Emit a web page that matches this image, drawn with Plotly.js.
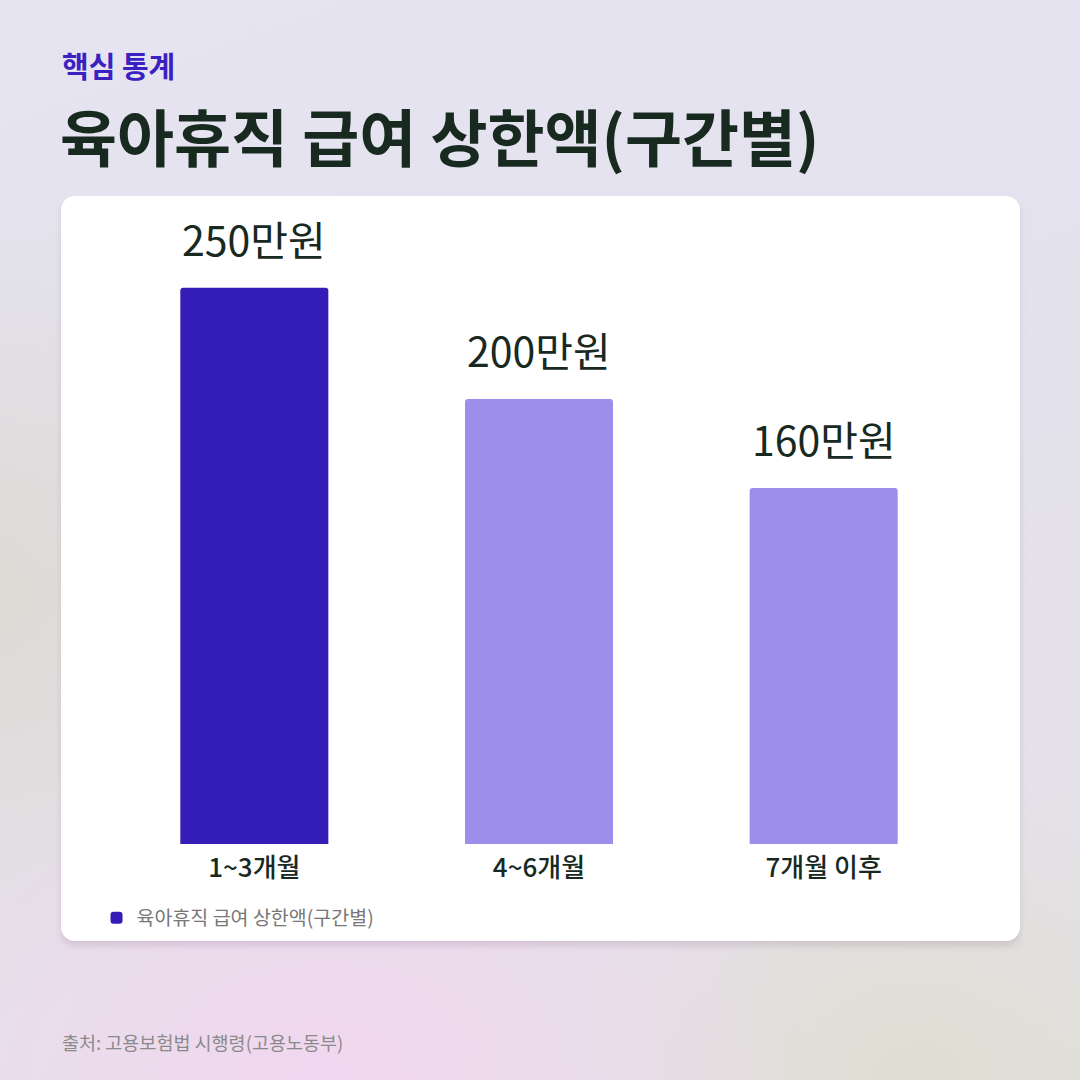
<!DOCTYPE html>
<html>
<head>
<meta charset="utf-8">
<script src="https://cdn.plot.ly/plotly-3.0.1.min.js"></script>
<style>
  html, body { margin: 0; padding: 0; }
  body {
    width: 1080px; height: 1080px; overflow: hidden; position: relative;
    background:
      radial-gradient(ellipse 700px 500px at 30% 100%, rgba(242,214,240,0.95), rgba(242,214,240,0) 70%),
      radial-gradient(ellipse 500px 400px at 85% 100%, rgba(222,222,208,0.9), rgba(222,222,208,0) 70%),
      radial-gradient(ellipse 500px 600px at 0% 55%, rgba(220,218,210,0.9), rgba(220,218,210,0) 70%),
      linear-gradient(160deg, #e6e4f0 0%, #e4e2ee 40%, #e4e0e4 100%);
  }
  #card {
    position: absolute; left: 61px; top: 196px; width: 959px; height: 745px;
    background: #ffffff; border-radius: 14px;
    box-shadow: 0 5px 6px rgba(120, 90, 130, 0.18);
  }
  #chart { position: absolute; left: 0; top: 0; width: 1080px; height: 1080px; }
</style>
</head>
<body>
<div id="card"></div>
<div id="chart"></div>
<script>
const categories = ['1~3개월', '4~6개월', '7개월 이후'];
const values = [250, 200, 160];
const valueLabels = ['250만원', '200만원', '160만원'];
const barColors = ['#341db7', '#9d8eeb', '#9d8eeb'];
const seriesName = '육아휴직 급여 상한액(구간별)';

const W = 1080, H = 1080;
const plotL = 111.5, plotR = 966.5, plotT = 221, plotB = 844;
const px = x => (x - plotL) / (plotR - plotL);
const py = y => (plotB - y) / (plotB - plotT);

const dark = '#18291f';
const font = '"Noto Sans CJK KR", "Noto Sans", sans-serif';

const annotations = [
    {
        text: '<b>핵심 통계</b>', xref: 'paper', yref: 'paper',
        x: px(59), y: py(65), xanchor: 'left', yanchor: 'middle',
        showarrow: false, font: { family: font, size: 29, color: '#3a22c0' }
    },
    {
        text: '<b>육아휴직 급여 상한액(구간별)</b>', xref: 'paper', yref: 'paper',
        x: px(57), y: py(135), xanchor: 'left', yanchor: 'middle',
        showarrow: false, font: { family: font, size: 62, color: dark }
    },
    {
        text: '출처: 고용보험법 시행령(고용노동부)', xref: 'paper', yref: 'paper',
        x: px(59), y: py(1042), xanchor: 'left', yanchor: 'middle',
        showarrow: false, font: { family: font, size: 18.5, color: '#8a8a8a' }
    }
];

// value labels sit above each bar
categories.forEach((c, i) => {
    annotations.push({
        text: valueLabels[i], x: c, y: values[i], xref: 'x', yref: 'y',
        xanchor: 'center', yanchor: 'bottom', yshift: 18, showarrow: false,
        font: { family: font, size: 41, color: dark, weight: 400 }
    });
});

const trace = {
    type: 'bar',
    x: categories,
    y: values,
    name: seriesName,
    width: 0.52,
    marker: { color: barColors, cornerradius: 3, line: { width: 0 } },
    hoverinfo: 'none',
    showlegend: true
};

const layout = {
    width: W,
    height: H,
    paper_bgcolor: 'rgba(0,0,0,0)',
    plot_bgcolor: 'rgba(0,0,0,0)',
    margin: { l: plotL, r: W - plotR, t: plotT, b: H - plotB, pad: 0 },
    xaxis: {
        range: [-0.5, 2.5],
        showgrid: false, zeroline: false, showline: false, ticks: '',
        tickfont: { family: font, size: 26, color: dark, weight: 500 },
        ticklabelstandoff: 6
    },
    yaxis: {
        range: [0, 280],
        showgrid: false, zeroline: false, showline: false,
        showticklabels: false, ticks: ''
    },
    showlegend: true,
    legend: {
        x: px(96), y: py(918), xanchor: 'left', yanchor: 'middle',
        orientation: 'h', bgcolor: 'rgba(0,0,0,0)',
        font: { family: font, size: 19.5, color: '#777777' },
        itemwidth: 30
    },
    annotations
};

Plotly.newPlot('chart', [trace], layout, { displayModeBar: false, staticPlot: true });
</script>
</body>
</html>
